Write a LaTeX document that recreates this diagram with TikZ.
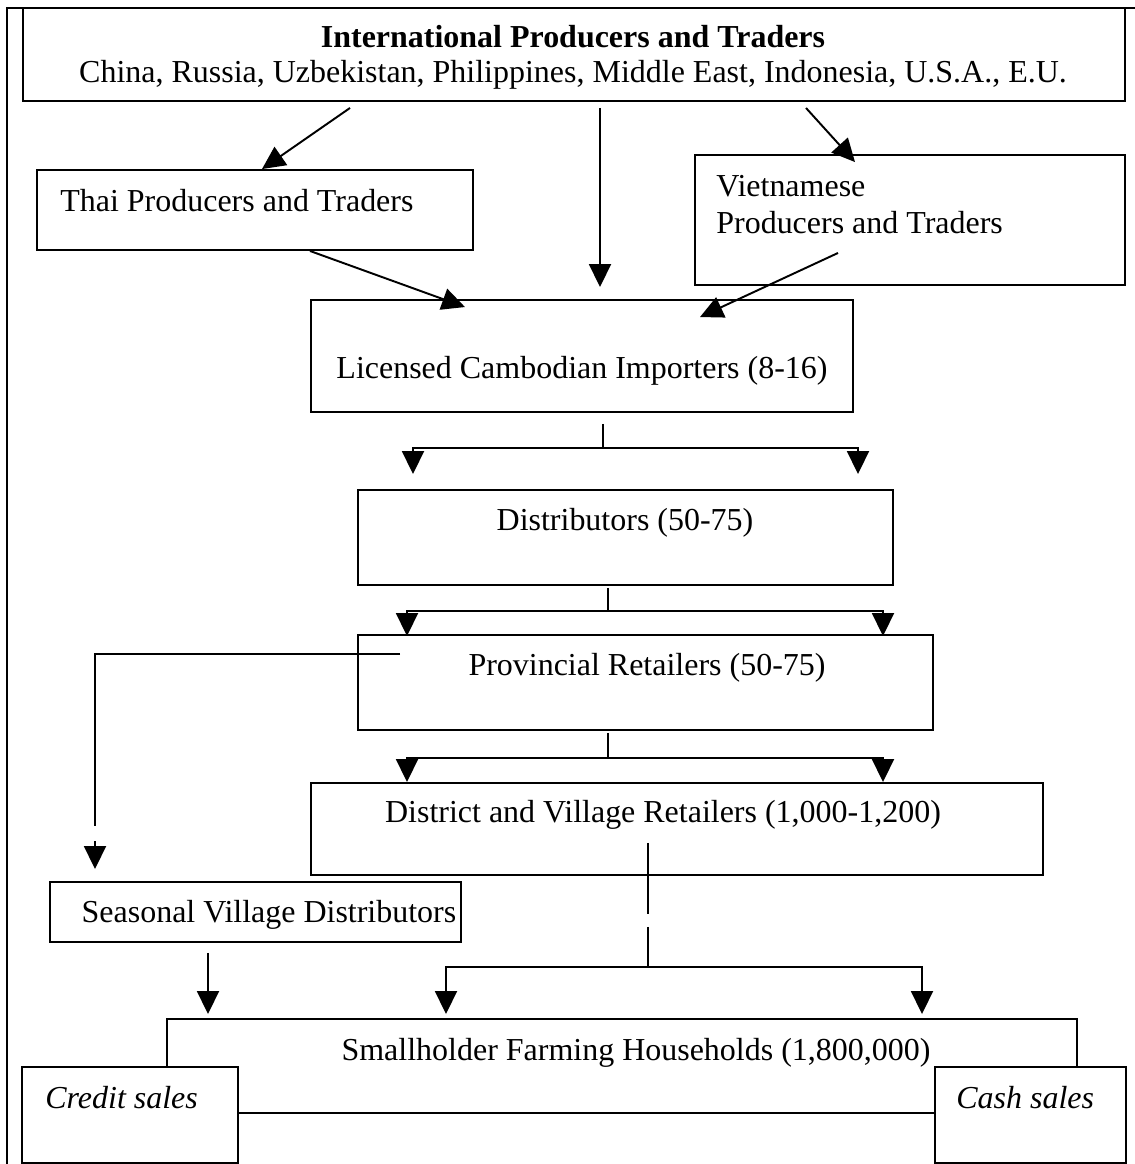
\documentclass[tikz,border=0pt]{standalone}
\usepackage{fontspec}
\setmainfont{Liberation Serif}
\usetikzlibrary{arrows.meta,fit,calc}

\tikzset{
	box/.style={draw, line width=1.1pt, inner sep=0pt, fill=white},
	lbl/.style={font=\fontsize{18.2}{21}\selectfont, inner sep=0pt},
	arr/.style={-{Triangle[length=0.46cm,width=0.44cm]}, line width=1.1pt},
	link/.style={line width=1.1pt}
}

\begin{document}
\begin{tikzpicture}[x=0.02cm, y=-0.02cm]
			\useasboundingbox (0,0) rectangle (1135,1164);
			\draw [link] (7,1164) -- (7,8) -- (1135,8);

			% boxes
			\node [box, fit={(23,8) (1125,101)}] (top) {};
			\node [box, fit={(37,170) (473,250)}] (thai) {};
			\node [box, fit={(695,155) (1125,285)}] (viet) {};
			\node [box, fit={(311,300) (853,412)}] (lic) {};
			\node [box, fit={(358,490) (893,585)}] (dist) {};
			\node [box, fit={(358,635) (933,730)}] (prov) {};
			\node [box, fit={(311,783) (1043,875)}] (vill) {};
			\node [box, fit={(50,882) (461,942)}] (seas) {};
			\node [box, fit={(167,1019) (1077,1113)}] (farm) {};
			\node [box, fit={(22,1067) (238,1163)}] (credit) {};
			\node [box, fit={(935,1067) (1126,1163)}] (cash) {};

			% texts
			\node [lbl, align=center, font=\fontsize{18.2}{20}\selectfont] (topT) at (573,57)
				{\textbf{International Producers and Traders}\\China, Russia, Uzbekistan, Philippines, Middle East, Indonesia, U.S.A., E.U.};
			\node [lbl, anchor=west] (thaiT) at (60,201) {Thai Producers and Traders};
			\node [lbl, anchor=west, align=left] (vietT) at (716,205) {Vietnamese\\Producers and Traders};
			\node [lbl] (licT) at (582,371) {Licensed Cambodian Importers (8-16)};
			\node [lbl] (distT) at (625,523) {Distributors (50-75)};
			\node [lbl] (provT) at (647,668) {Provincial Retailers (50-75)};
			\node [lbl] (villT) at (663,815) {District and Village Retailers (1,000-1,200)};
			\node [lbl] (seasT) at (269,915) {Seasonal Village Distributors};
			\node [lbl] (farmT) at (636,1053) {Smallholder Farming Households (1,800,000)};
			\node [lbl, anchor=west] (creditT) at (45,1098) {\itshape Credit sales};
			\node [lbl, anchor=west] (cashT) at (956,1098) {\itshape Cash sales};

			% international flows
			\draw [arr] ($(top.south -| 350,0)+(0,6)$) -- (thai.north -| 262,0);
			\draw [arr] ($(top.south -| 600,0)+(0,6)$) -- ($(lic.north -| 600,0)+(0,-12)$);
			\draw [arr] ($(top.south -| 806,0)+(0,6)$) -- ($(viet.north -| 855,0)+(0,8)$);
			\draw [arr] (thai.south -| 310,0) -- ($(lic.north -| 465,0)+(0,8)$);
			\draw [arr] ($(viet.south -| 838,0)+(0,-33)$) -- ($(lic.north -| 700,0)+(0,18)$);

			% importers -> distributors
			\coordinate (licJ) at ($(lic.south -| 603,0)+(0,35)$);
			\draw [link] ($(lic.south -| 603,0)+(0,11)$) -- (licJ);
			\draw [arr] (licJ) -| ($(dist.north -| 413,0)+(0,-15)$);
			\draw [arr] (licJ) -| ($(dist.north -| 858,0)+(0,-15)$);

			% distributors -> provincial
			\coordinate (distJ) at ($(dist.south -| 608,0)+(0,25)$);
			\draw [link] ($(dist.south -| 608,0)+(0,2)$) -- (distJ);
			\draw [arr] (distJ) -| ($(prov.north -| 407,0)+(0,2)$);
			\draw [arr] (distJ) -| ($(prov.north -| 883,0)+(0,2)$);

			% provincial -> district and village
			\coordinate (provJ) at ($(prov.south -| 608,0)+(0,27)$);
			\draw [link] ($(prov.south -| 608,0)+(0,2)$) -- (provJ);
			\draw [arr] (provJ) -| (vill.north -| 407,0);
			\draw [arr] (provJ) -| (vill.north -| 883,0);

			% provincial -> seasonal
			\draw [link] ($(prov.north -| 400,0)+(0,20)$) -| ($(seas.north -| 95,0)+(0,-55)$);
			\draw [arr] ($(seas.north -| 95,0)+(0,-40)$) -- ($(seas.north -| 95,0)+(0,-12)$);

			% district and village -> farmers
			\coordinate (villJ) at ($(vill.south -| 648,0)+(0,91)$);
			\draw [link] ($(vill.south -| 648,0)+(0,-33)$) -- ++(0,71);
			\draw [link] ($(vill.south -| 648,0)+(0,51)$) -- (villJ);
			\draw [arr] (villJ) -| ($(farm.north -| 446,0)+(0,-4)$);
			\draw [arr] (villJ) -| ($(farm.north -| 922,0)+(0,-4)$);

			% seasonal -> farmers
			\draw [arr] ($(seas.south -| 208,0)+(0,10)$) -- ($(farm.north -| 208,0)+(0,-4)$);
\end{tikzpicture}
\end{document}
